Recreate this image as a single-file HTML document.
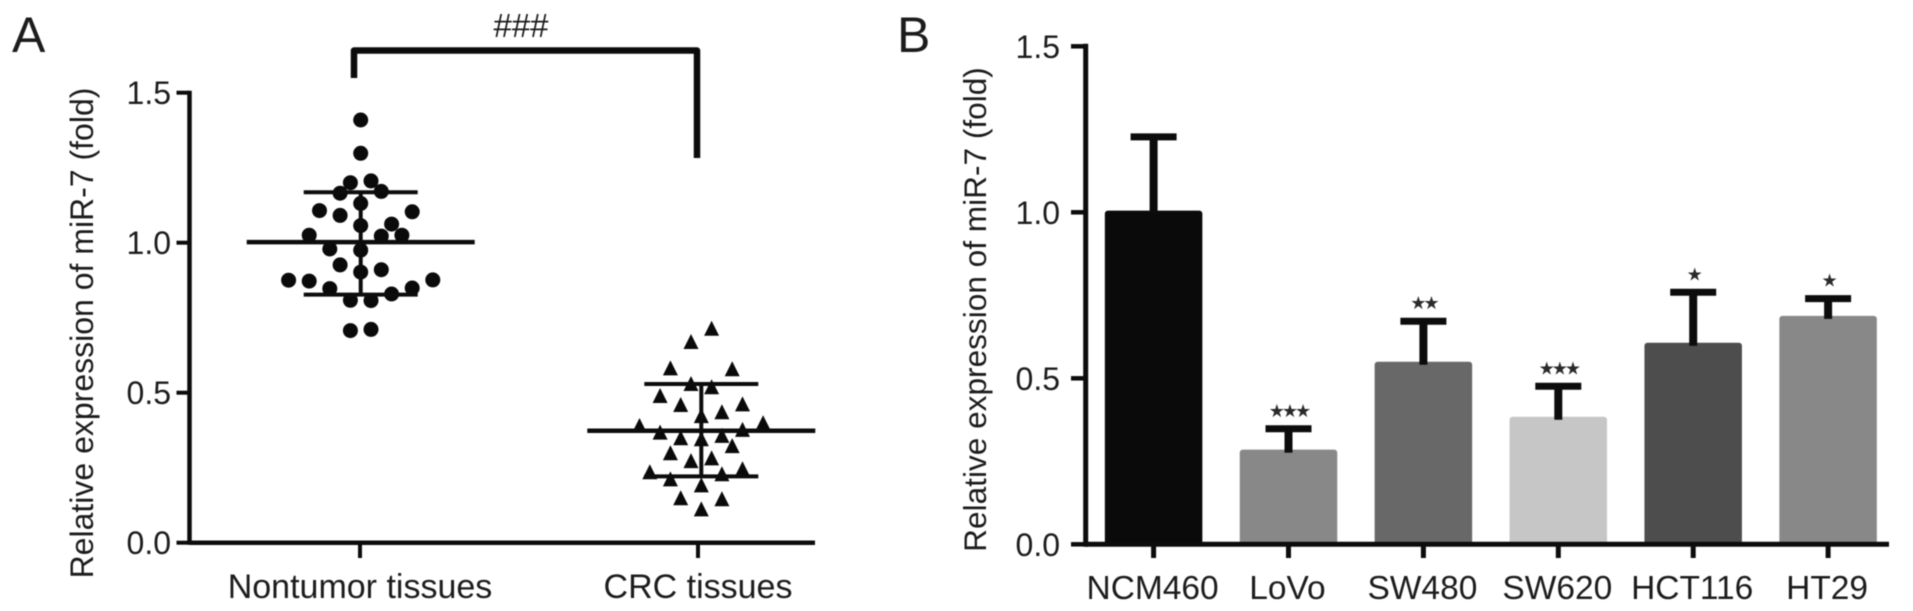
<!DOCTYPE html>
<html lang="en">
<head>
<meta charset="utf-8">
<title>miR-7 relative expression</title>
<style>
  html, body { margin: 0; padding: 0; background: #fff; }
  body { width: 1913px; height: 611px; overflow: hidden; }
  svg { display: block; filter: blur(0.55px); }
  text { font-family: "Liberation Sans", Arial, sans-serif; fill: #1c1c1c; }
</style>
</head>
<body>
<svg id="figure" xmlns="http://www.w3.org/2000/svg" width="1913" height="611" viewBox="0 0 1913 611">
  <text x="12" y="52" font-size="50">A</text>
  <text x="897" y="52" font-size="50">B</text>
  <g id="panelA"></g>
  <g id="panelB"></g>
</svg>
<script>
// ---------- Shared axis data ----------
const tickValues = [0, 0.5, 1.0, 1.5];
const tickLabels = ["0.0", "0.5", "1.0", "1.5"];
const yTitle = "Relative expression of miR-7 (fold)";

// ---------- Panel A data ----------
const scatterCategories = ["Nontumor tissues", "CRC tissues"];
const nontumorValues = [1.409,1.298,1.200,1.206,1.165,1.171,1.131,1.107,1.091,1.103,1.057,1.062,1.025,1.022,1.025,0.979,0.975,0.926,0.902,0.910,0.875,0.872,0.876,0.847,0.849,0.829,0.808,0.807,0.707,0.711];
const nontumorSwarmColumns = [0,0,-1,1,-2,2,0,-4,-2,5,0,3,-5,2,4,-3,0,-2,0,2,-7,-5,7,-3,5,3,-1,1,-1,1];
const crcValues = [0.713,0.669,0.581,0.578,0.529,0.518,0.489,0.459,0.435,0.461,0.422,0.398,0.389,0.367,0.376,0.348,0.345,0.356,0.322,0.298,0.272,0.281,0.235,0.245,0.228,0.211,0.191,0.148,0.145,0.111];
const crcSwarmColumns = [1,-1,-3,3,-1,1,-4,-2,2,4,0,6,-6,-4,4,-2,0,2,3,-3,-1,1,-5,4,2,-3,0,-2,2,0];
const scatterMeans = [1.002, 0.373];
const scatterUpper = [1.168, 0.529];
const scatterLower = [0.827, 0.221];
const significanceLabel = "###";

// ---------- Panel B data ----------
const barCategories = ["NCM460", "LoVo", "SW480", "SW620", "HCT116", "HT29"];
const barValues = [1.005, 0.285, 0.55, 0.384, 0.607, 0.688];
const barErrors = [0.222, 0.063, 0.122, 0.092, 0.152, 0.052];
const barStars = ["", "★★★", "★★", "★★★", "★", "★"];
const barColors = ["#0a0a0a", "#888888", "#686868", "#c6c6c6", "#4d4d4d", "#888888"];

const NS = "http://www.w3.org/2000/svg";
function make(parent, tag, attrs, txt) {
  const el = document.createElementNS(NS, tag);
  for (const k in attrs) el.setAttribute(k, attrs[k]);
  if (txt !== undefined) el.textContent = txt;
  parent.appendChild(el);
  return el;
}
function line(parent, x1, y1, x2, y2, w) {
  return make(parent, "line", {x1: x1, y1: y1, x2: x2, y2: y2, stroke: "#0c0c0c", "stroke-width": w});
}

// ---------- Panel A ----------
const panelA = document.getElementById("panelA");
const ayZero = 542.7, ayUnit = 300;
const ay = v => ayZero - v * ayUnit;
const axCat = i => 360.7 + i * 340.6;
const axSwarm = (i, c) => axCat(i) + c * 10.3;
const axTick = i => 360 + i * 338;

{
  const axisLeft = 189.5;
  const yAxis = line(panelA, axisLeft, ay(1.5) - 2, axisLeft, ay(0) + 2, 4.5);
  
  
  const xAxis = line(panelA, axisLeft, ay(0), 815, ay(0), 4.5);
  
  

  tickValues.forEach((v, i) => {
    const tick = line(panelA, 176.5, ay(v), axisLeft, ay(v), 4);
    
    
    const lab = make(panelA, "text", {x: 171, y: ay(v) + 11.5, "font-size": 32, "text-anchor": "end"}, tickLabels[i]);
    
    
  });

  const title = make(panelA, "text", {transform: "translate(93,333) rotate(-90)", "font-size": 32, "text-anchor": "middle"}, yTitle);
  
  

  scatterCategories.forEach((c, i) => {
    const tick = line(panelA, axTick(i), ay(0), axTick(i), 558, 4);
    
    
    const lab = make(panelA, "text", {x: axTick(i), y: 598, "font-size": 34, "text-anchor": "middle"}, c);
    
    
  });

  // points
  nontumorValues.forEach((v, i) => {
    const dot = make(panelA, "circle", {cx: axSwarm(0, nontumorSwarmColumns[i]), cy: ay(v), r: 7.5, fill: "#0a0a0a"});
    
    
  });
  crcValues.forEach((v, i) => {
    const x = axSwarm(1, crcSwarmColumns[i]), y = ay(v);
    const tri = make(panelA, "polygon", {points: (x) + "," + (y - 8) + " " + (x + 7.5) + "," + (y + 7) + " " + (x - 7.5) + "," + (y + 7), fill: "#0a0a0a"});
    
    
  });

  // mean & SD
  scatterCategories.forEach((c, i) => {
    const cx = axCat(i);
    const mean = line(panelA, cx - 114, ay(scatterMeans[i]), cx + 114, ay(scatterMeans[i]), 4.5);
    
    
    const stem = line(panelA, cx, ay(scatterUpper[i]), cx, ay(scatterLower[i]), 4);
    
    
    const capTop = line(panelA, cx - 57, ay(scatterUpper[i]), cx + 57, ay(scatterUpper[i]), 4);
    
    
    const capBottom = line(panelA, cx - 57, ay(scatterLower[i]), cx + 57, ay(scatterLower[i]), 4);
    
    
  });

  // significance bracket
  const bx1 = 354, bx2 = 697;
  const bracket = make(panelA, "path", {d: "M" + bx1 + " 78V50.5H" + bx2 + "V158", fill: "none", stroke: "#0c0c0c", "stroke-width": 6.5, "stroke-linejoin": "round"});
  
  
  const sig = make(panelA, "text", {x: 521, y: 37, "font-size": 33, "text-anchor": "middle"}, significanceLabel);
  
  
}

// ---------- Panel B ----------
const panelB = document.getElementById("panelB");
const byZero = 544.3, byUnit = 332;
const by = v => byZero - v * byUnit;
const bxCat = i => 1153.6 + i * 134.9;

{
  const axisLeft = 1085.7, barW = 97.5;

  barCategories.forEach((c, i) => {
    const bar = make(panelB, "rect", {x: bxCat(i) - barW / 2, y: by(barValues[i]), width: barW, height: byZero - by(barValues[i]), rx: 3, fill: barColors[i]});
    
    
    const top = barValues[i] + barErrors[i];
    const stem = line(panelB, bxCat(i), by(barValues[i]) + 3, bxCat(i), by(top), 8);
    
    
    const cap = line(panelB, bxCat(i) - 23, by(top), bxCat(i) + 23, by(top), 7);
    
    
    if (barStars[i]) {
      const star = make(panelB, "text", {x: bxCat(i), y: by(top) - 12, "font-size": 18, "letter-spacing": -3, "text-anchor": "middle", style: 'font-family:"DejaVu Sans",sans-serif;fill:#2a2a2a'}, barStars[i]);
      
      
    }
    const tick = line(panelB, bxCat(i), byZero, bxCat(i), 558, 5);
    
    
    const lab = make(panelB, "text", {x: bxCat(i) - 1, y: 599, "font-size": 33.5, "text-anchor": "middle"}, c);
    
    
  });

  const yAxis = line(panelB, axisLeft, by(1.5) - 2.5, axisLeft, byZero + 2.5, 5);
  
  
  const xAxis = line(panelB, axisLeft, byZero, 1889, byZero, 5);
  
  

  tickValues.forEach((v, i) => {
    const tick = line(panelB, 1071, by(v), axisLeft, by(v), 4.5);
    
    
    const lab = make(panelB, "text", {x: 1060, y: by(v) + 11.5, "font-size": 32, "text-anchor": "end"}, tickLabels[i]);
    
    
  });

  const title = make(panelB, "text", {transform: "translate(986,309.5) rotate(-90)", "font-size": 31.6, "text-anchor": "middle"}, yTitle);
  
  
}
</script>
</body>
</html>
